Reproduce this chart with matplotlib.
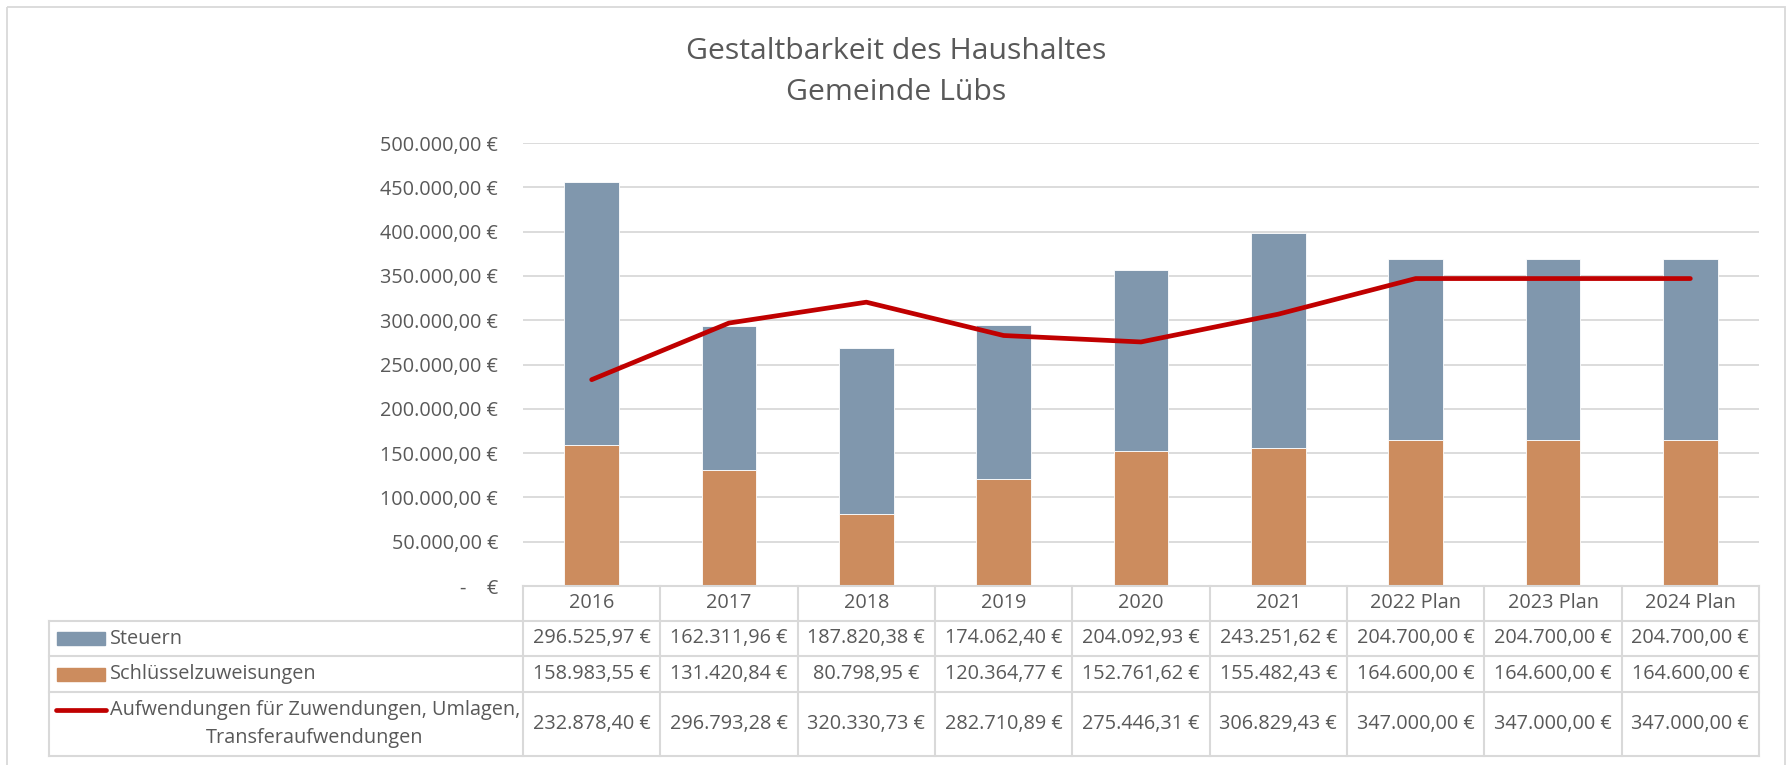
import matplotlib.pyplot as plt
import numpy as np
from matplotlib.patches import Rectangle

plt.rcParams['font.family'] = ['Open Sans', 'DejaVu Sans']

# data
jahre = ['2016', '2017', '2018', '2019', '2020', '2021', '2022 Plan', '2023 Plan', '2024 Plan']
steuern = [296525.97, 162311.96, 187820.38, 174062.40, 204092.93, 243251.62, 204700.00, 204700.00, 204700.00]
schluessel = [158983.55, 131420.84, 80798.95, 120364.77, 152761.62, 155482.43, 164600.00, 164600.00, 164600.00]
aufwendungen = [232878.40, 296793.28, 320330.73, 282710.89, 275446.31, 306829.43, 347000.00, 347000.00, 347000.00]
serien = ['Steuern', 'Schlüsselzuweisungen', 'Aufwendungen für Zuwendungen, Umlagen,\nTransferaufwendungen']
titel = ['Gestaltbarkeit des Haushaltes', 'Gemeinde Lübs']

BLAU = '#8097AD'
ORANGE = '#CC8C5E'
ROT = '#C00000'
GRAU = '#D9D9D9'
TXT = '#595959'

W, H = 1792, 765


def euro(v):
    s = '{:,.2f}'.format(v)
    s = s.replace(',', 'X').replace('.', ',').replace('X', '.')
    return s + ' €'


fig = plt.figure(figsize=(W / 100, H / 100), dpi=100)

# plot area in pixels
x0, x1 = 523, 1759
y_top, y_null = 143, 586
ax = fig.add_axes([x0 / W, 1 - y_null / H, (x1 - x0) / W, (y_null - y_top) / H])
x = np.arange(len(jahre))
ax.bar(x, schluessel, width=0.4, color=ORANGE, edgecolor='white', linewidth=0.6, zorder=2)
ax.bar(x, steuern, width=0.4, bottom=schluessel, color=BLAU, edgecolor='white', linewidth=0.6, zorder=2)
ax.plot(x, aufwendungen, color=ROT, lw=3.4, solid_capstyle='round', solid_joinstyle='round', zorder=3)
ax.set_xlim(-0.5, len(jahre) - 0.5)
ax.set_ylim(0, 500000)
ticks = np.arange(0, 500001, 50000)
ax.set_yticks(ticks)
ax.set_yticklabels(['-    €' if t == 0 else euro(t) for t in ticks])
ax.tick_params(axis='y', length=0, pad=18, labelsize=14.3, labelcolor=TXT)
ax.set_xticks([])
for t in ticks[1:]:
    ax.axhline(t, color=GRAU, lw=1.3, zorder=1)
for s in ax.spines.values():
    s.set_visible(False)
ax.patch.set_alpha(0)

# overlay in pixel coordinates for title, table and frame
ov = fig.add_axes([0, 0, 1, 1], zorder=5)
ov.set_xlim(0, W)
ov.set_ylim(H, 0)
ov.axis('off')
ov.patch.set_alpha(0)

ov.add_patch(Rectangle((7, 7), 1778, 770, fill=False, edgecolor=GRAU, lw=1.3))
ov.text(W / 2, 51, titel[0], ha='center', va='center', fontsize=21.7, color=TXT)
ov.text(W / 2, 92, titel[1], ha='center', va='center', fontsize=21.7, color=TXT)

# table
n = len(jahre)
cw = (x1 - x0) / n
tab_left = 49
rows = [586, 621, 656, 692, 756]
lk = dict(color=GRAU, lw=1.5)
ov.plot([x0, x1], [rows[0], rows[0]], **lk)
for r in rows[1:]:
    ov.plot([tab_left, x1], [r, r], **lk)
for i in range(n + 1):
    ov.plot([x0 + i * cw, x0 + i * cw], [rows[0], rows[-1]], **lk)
ov.plot([tab_left, tab_left], [rows[1], rows[-1]], **lk)

fs = 14.3
for i, j in enumerate(jahre):
    cx = x0 + (i + 0.5) * cw
    ov.text(cx, (rows[0] + rows[1]) / 2, j, ha='center', va='center', fontsize=fs, color=TXT)
    for k, werte in enumerate([steuern, schluessel, aufwendungen]):
        ov.text(cx, (rows[k + 1] + rows[k + 2]) / 2, euro(werte[i]), ha='center', va='center',
                fontsize=fs, color=TXT)

# legend keys in the row labels
for k, farbe in enumerate([BLAU, ORANGE]):
    yc = (rows[k + 1] + rows[k + 2]) / 2
    ov.add_patch(Rectangle((57, yc - 6.5), 48, 13, color=farbe))
    ov.text(110, yc, serien[k], ha='left', va='center', fontsize=fs, color=TXT)
ov.plot([56, 106], [710, 710], color=ROT, lw=3.4, solid_capstyle='round')
zeilen = serien[2].split('\n')
t1 = ov.text(110, 710, zeilen[0], ha='left', va='center', fontsize=fs, color=TXT)
fig.canvas.draw()
bb = t1.get_window_extent()
mitte = (bb.x0 + bb.x1) / 2
ov.text(mitte, 738, zeilen[1], ha='center', va='center', fontsize=fs, color=TXT)

fig.savefig('out.png', dpi=100, facecolor='white')
